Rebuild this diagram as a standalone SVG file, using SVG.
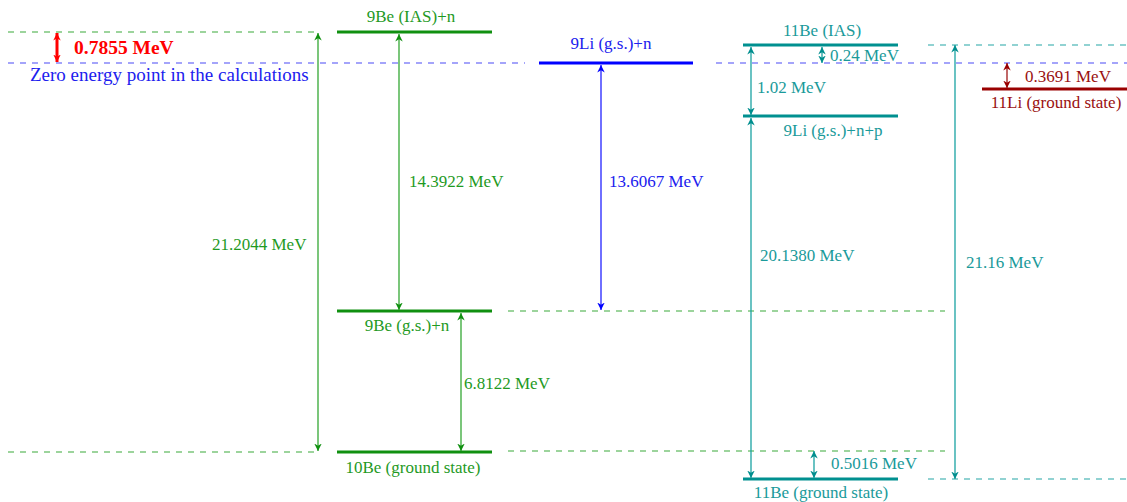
<svg xmlns="http://www.w3.org/2000/svg" width="1127" height="502" viewBox="0 0 1127 502">
<style>
text{font-family:"Liberation Serif","Times New Roman",serif;font-size:17px}
.lvl{stroke-width:3;fill:none}
.dash{stroke-width:1.2;stroke-dasharray:6,6;fill:none}
.arr{stroke-width:1.3;fill:none}
.g{stroke:#109010}.gt{fill:#1f9a1f}.ga{stroke:#33a833}.gd{stroke:#3aaa3a}
.b{stroke:#0000ff}.bt{fill:#2020ee}.ba{stroke:#2222ff}.bd{stroke:#4a4af5}
.t{stroke:#009090}.tt{fill:#1a9a9a}.ta{stroke:#1aa2a2}.td{stroke:#25a5a5}
.r{stroke:#990000}.rt{fill:#9a1010}.ra{stroke:#a01818}
</style>
<defs>
<marker id="mg" viewBox="0 0 10 10" refX="10" refY="5" markerWidth="7.5" markerHeight="13" markerUnits="userSpaceOnUse" orient="auto-start-reverse"><path d="M0,0L10,5L0,10L3,5Z" fill="#109010"/></marker>
<marker id="mb" viewBox="0 0 10 10" refX="10" refY="5" markerWidth="7.5" markerHeight="13" markerUnits="userSpaceOnUse" orient="auto-start-reverse"><path d="M0,0L10,5L0,10L3,5Z" fill="#0000ff"/></marker>
<marker id="mt" viewBox="0 0 10 10" refX="10" refY="5" markerWidth="7.5" markerHeight="13" markerUnits="userSpaceOnUse" orient="auto-start-reverse"><path d="M0,0L10,5L0,10L3,5Z" fill="#008e8e"/></marker>
<marker id="mr" viewBox="0 0 10 10" refX="10" refY="5" markerWidth="7.5" markerHeight="13" markerUnits="userSpaceOnUse" orient="auto-start-reverse"><path d="M0,0L10,5L0,10L3,5Z" fill="#990000"/></marker>
<marker id="mred" viewBox="0 0 10 10" refX="10" refY="5" markerWidth="7.5" markerHeight="13" markerUnits="userSpaceOnUse" orient="auto-start-reverse"><path d="M0,0L10,5L0,10L3,5Z" fill="#ff0000"/></marker>
</defs>
<rect width="1127" height="502" fill="#ffffff"/>

<g id="reference-lines">
<line class="dash gd" x1="8" y1="32" x2="320" y2="32"/>
<line class="dash bd" x1="8" y1="63" x2="525" y2="63"/>
<line class="dash bd" x1="716" y1="63" x2="1127" y2="63"/>
<line class="dash td" x1="928" y1="45" x2="1127" y2="45"/>
<line class="dash gd" x1="508" y1="311" x2="945" y2="311"/>
<line class="dash gd" x1="8" y1="452" x2="320" y2="452"/>
<line class="dash gd" x1="508" y1="451" x2="945" y2="451"/>
<line class="dash td" x1="928" y1="479" x2="1127" y2="479"/>
<text x="30" y="81" class="bt" style="font-size:19px">Zero energy point in the calculations</text>
</g>

<g id="be9-ias">
<line class="lvl g" x1="337" y1="32" x2="492" y2="32"/>
<text x="411" y="22" class="gt" text-anchor="middle">9Be (IAS)+n</text>
</g>
<g id="li9-n">
<line class="lvl b" x1="539" y1="63" x2="693" y2="63"/>
<text x="611" y="49" class="bt" text-anchor="middle">9Li (g.s.)+n</text>
</g>
<g id="be9-gs">
<line class="lvl g" x1="337" y1="311" x2="492" y2="311"/>
<text x="407" y="331" class="gt" text-anchor="middle">9Be (g.s.)+n</text>
</g>
<g id="be10-gs">
<line class="lvl g" x1="337" y1="452" x2="492" y2="452"/>
<text x="413" y="473" class="gt" text-anchor="middle">10Be (ground state)</text>
</g>
<g id="be11-ias">
<line class="lvl t" x1="743" y1="45" x2="898" y2="45"/>
<text x="822" y="36" class="tt" text-anchor="middle">11Be (IAS)</text>
</g>
<g id="li9-np">
<line class="lvl t" x1="743" y1="116" x2="898" y2="116"/>
<text x="833" y="136" class="tt" text-anchor="middle">9Li (g.s.)+n+p</text>
</g>
<g id="be11-gs">
<line class="lvl t" x1="743" y1="479" x2="898" y2="479"/>
<text x="821" y="498" class="tt" text-anchor="middle">11Be (ground state)</text>
</g>
<g id="li11-gs">
<line class="lvl r" x1="982" y1="89" x2="1127" y2="89"/>
<text x="1056" y="108" class="rt" text-anchor="middle">11Li (ground state)</text>
</g>

<g id="connectors">
<line x1="57" y1="33" x2="57" y2="62" stroke="#ff0000" stroke-width="3" marker-start="url(#mred)" marker-end="url(#mred)"/>
<text x="74" y="54" fill="#ff0000" style="font-size:19.5px;font-weight:bold">0.7855 MeV</text>

<line class="arr ga" x1="318" y1="33" x2="318" y2="451" marker-start="url(#mg)" marker-end="url(#mg)"/>
<text x="212" y="250" class="gt">21.2044 MeV</text>

<line class="arr ga" x1="399" y1="34" x2="399" y2="310" marker-start="url(#mg)" marker-end="url(#mg)"/>
<text x="409" y="187" class="gt">14.3922 MeV</text>

<line class="arr ga" x1="461" y1="313" x2="461" y2="451" marker-start="url(#mg)" marker-end="url(#mg)"/>
<text x="464" y="389" class="gt">6.8122 MeV</text>

<line class="arr ba" x1="601" y1="65" x2="601" y2="310" marker-start="url(#mb)" marker-end="url(#mb)"/>
<text x="609" y="187" class="bt">13.6067 MeV</text>

<line class="arr ta" x1="822" y1="47" x2="822" y2="63" marker-start="url(#mt)" marker-end="url(#mt)"/>
<text x="830" y="61" class="tt">0.24 MeV</text>

<line class="arr ta" x1="751" y1="47" x2="751" y2="115" marker-start="url(#mt)" marker-end="url(#mt)"/>
<text x="757" y="93" class="tt">1.02 MeV</text>

<line class="arr ta" x1="751" y1="118" x2="751" y2="478" marker-start="url(#mt)" marker-end="url(#mt)"/>
<text x="760" y="261" class="tt">20.1380 MeV</text>

<line class="arr ta" x1="814" y1="451" x2="814" y2="478" marker-start="url(#mt)" marker-end="url(#mt)"/>
<text x="831" y="469" class="tt">0.5016 MeV</text>

<line class="arr ta" x1="955" y1="45" x2="955" y2="479" marker-start="url(#mt)" marker-end="url(#mt)"/>
<text x="966" y="268" class="tt">21.16 MeV</text>

<line class="arr ra" x1="1007" y1="63" x2="1007" y2="88" marker-start="url(#mr)" marker-end="url(#mr)"/>
<text x="1025" y="82" class="rt">0.3691 MeV</text>
</g>
</svg>
